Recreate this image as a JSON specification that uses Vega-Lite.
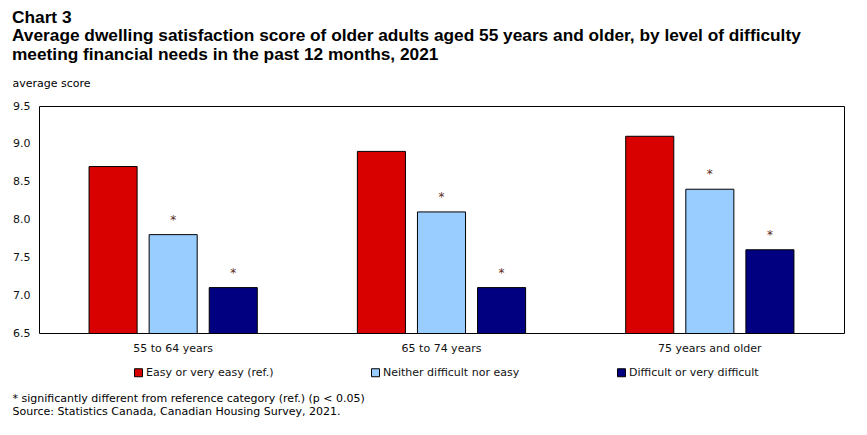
{
  "$schema": "https://vega.github.io/schema/vega-lite/v6.json",
  "width": 805,
  "height": 227,
  "autosize": {"type": "none"},
  "padding": {"left": 39, "top": 106, "right": 23, "bottom": 102},
  "background": "white",
  "title": {
    "text": ["Chart 3", "Average dwelling  satisfaction score of older adults aged 55 years and older, by level of difficulty", "meeting financial  needs in the past 12 months, 2021"],
    "anchor": "start",
    "frame": "group",
    "dx": -27,
    "font": "Liberation Sans",
    "fontSize": 17.3,
    "fontWeight": "bold",
    "lineHeight": 18.5,
    "color": "black",
    "offset": 14
  },
  "data": {
    "values": [
      {"age": "55 to 64 years", "level": "Easy or very easy (ref.)", "value": 8.7, "sig": ""},
      {"age": "55 to 64 years", "level": "Neither difficult nor easy", "value": 7.8, "sig": "*"},
      {"age": "55 to 64 years", "level": "Difficult or very difficult", "value": 7.1, "sig": "*"},
      {"age": "65 to 74 years", "level": "Easy or very easy (ref.)", "value": 8.9, "sig": ""},
      {"age": "65 to 74 years", "level": "Neither difficult nor easy", "value": 8.1, "sig": "*"},
      {"age": "65 to 74 years", "level": "Difficult or very difficult", "value": 7.1, "sig": "*"},
      {"age": "75 years and older", "level": "Easy or very easy (ref.)", "value": 9.1, "sig": ""},
      {"age": "75 years and older", "level": "Neither difficult nor easy", "value": 8.4, "sig": "*"},
      {"age": "75 years and older", "level": "Difficult or very difficult", "value": 7.6, "sig": "*"}
    ]
  },
  "encoding": {
    "x": {
      "field": "age",
      "type": "nominal",
      "sort": null,
      "scale": {"paddingInner": 0, "paddingOuter": 0},
      "axis": {
        "labelAngle": 0,
        "labelFont": "DejaVu Sans",
        "labelFontSize": 11,
        "labelColor": "#111111",
        "labelPadding": 9,
        "ticks": false,
        "domain": false,
        "title": ["* significantly different from reference category (ref.) (p < 0.05)", "Source: Statistics Canada, Canadian Housing Survey, 2021."],
        "titleX": -27,
        "titleY": 59,
        "titleAlign": "left",
        "titleAnchor": null,
        "titleBaseline": "top",
        "titleFont": "DejaVu Sans",
        "titleFontSize": 11,
        "titleFontWeight": "normal",
        "titleLineHeight": 13,
        "titleColor": "black"
      }
    },
    "xOffset": {
      "field": "level",
      "type": "nominal",
      "sort": ["Easy or very easy (ref.)", "Neither difficult nor easy", "Difficult or very difficult"],
      "scale": {"paddingInner": 0.2, "paddingOuter": 0.833}
    },
    "y": {
      "field": "value",
      "type": "quantitative",
      "scale": {"domain": [6.5, 9.5], "zero": false, "nice": false},
      "axis": {
        "values": [6.5, 7, 7.5, 8, 8.5, 9, 9.5],
        "format": ".1f",
        "labelFont": "DejaVu Sans",
        "labelFontSize": 11,
        "labelColor": "#111111",
        "labelPadding": 9,
        "ticks": false,
        "domain": false,
        "grid": false,
        "title": "average score",
        "titleAngle": 0,
        "titleAlign": "left",
        "titleBaseline": "middle",
        "titleX": -27,
        "titleY": -23,
        "titleFont": "DejaVu Sans",
        "titleFontSize": 11,
        "titleFontWeight": "normal",
        "titleColor": "black"
      }
    }
  },
  "layer": [
    {
      "mark": {"type": "bar", "stroke": "black", "strokeWidth": 1, "clip": true},
      "encoding": {
        "color": {
          "field": "level",
          "type": "nominal",
          "sort": ["Easy or very easy (ref.)", "Neither difficult nor easy", "Difficult or very difficult"],
          "scale": {"domain": ["Easy or very easy (ref.)", "Neither difficult nor easy", "Difficult or very difficult"], "range": ["#D90000", "#99CCFF", "#000080"]},
          "legend": {
            "orient": "none",
            "legendX": 94,
            "legendY": 261,
            "direction": "horizontal",
            "columns": 3,
            "columnPadding": 95,
            "title": null,
            "symbolType": "square",
            "symbolSize": 64,
            "symbolStrokeColor": "black",
            "symbolStrokeWidth": 1,
            "labelFont": "DejaVu Sans",
            "labelFontSize": 11,
            "labelColor": "#111111",
            "labelOffset": 2,
            "labelLimit": 300,
            "padding": 0
          }
        }
      }
    },
    {
      "mark": {"type": "text", "baseline": "bottom", "dy": -8, "font": "DejaVu Sans", "fontSize": 12, "color": "#5a2a1a"},
      "encoding": {"text": {"field": "sig"}}
    }
  ],
  "config": {
    "view": {"stroke": "black", "strokeWidth": 1}
  }
}
